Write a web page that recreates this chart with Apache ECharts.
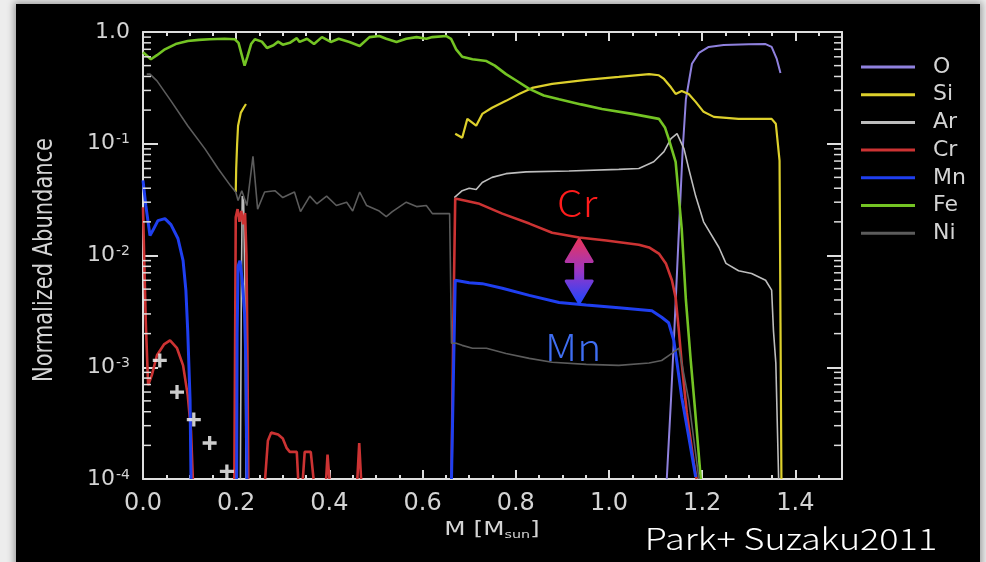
<!DOCTYPE html>
<html>
<head>
<meta charset="utf-8">
<script src="https://cdn.jsdelivr.net/npm/echarts@6/dist/echarts.min.js"></script>
<style>
  html, body { margin: 0; padding: 0; width: 986px; height: 562px; overflow: hidden; background: #ededed; }
  #panel { position: absolute; left: 16px; top: 4px; width: 964px; height: 562px; background: #000;
           box-shadow: 0 0 7px 2px rgba(0,0,0,0.35); }
  #chart { position: absolute; left: 0; top: 0; width: 986px; height: 562px; }
</style>
</head>
<body>
<div id="panel"></div>
<div id="chart"></div>
<script>
// Axis tick labels
const massLabels = ['0.0', '0.2', '0.4', '0.6', '0.8', '1.0', '1.2', '1.4'];
const decadeLabels = ['10{e|-4}', '10{e|-3}', '10{e|-2}', '10{e|-1}', '1.0'];
const logMinorTicks = [
  2e-4, 3e-4, 4e-4, 5e-4, 6e-4, 7e-4, 8e-4, 9e-4,
  2e-3, 3e-3, 4e-3, 5e-3, 6e-3, 7e-3, 8e-3, 9e-3,
  2e-2, 3e-2, 4e-2, 5e-2, 6e-2, 7e-2, 8e-2, 9e-2,
  0.2, 0.3, 0.4, 0.5, 0.6, 0.7, 0.8, 0.9
];
const elements = ['O', 'Si', 'Ar', 'Cr', 'Mn', 'Fe', 'Ni'];

// Abundance profiles: [mass coordinate (Msun), normalized abundance]
const oxygen = [[1.124,1.0e-4],[1.133,5.1e-4],[1.141,2.5e-3],[1.150,0.0167],[1.158,0.087],[1.165,0.25],
  [1.178,0.52],[1.193,0.65],[1.214,0.735],[1.246,0.765],[1.30,0.775],[1.336,0.78],[1.349,0.735],
  [1.360,0.574],[1.368,0.43]];

const siliconInner = [[0.199,0.037],[0.200,0.06],[0.202,0.10],[0.204,0.145],[0.210,0.19],[0.216,0.21],[0.221,0.227]];
const siliconOuter = [[0.670,0.123],[0.685,0.113],[0.696,0.167],[0.715,0.145],[0.728,0.185],[0.749,0.21],
  [0.779,0.242],[0.807,0.279],[0.835,0.316],[0.878,0.343],[0.951,0.373],[1.021,0.396],[1.086,0.42],
  [1.107,0.41],[1.118,0.38],[1.133,0.32],[1.143,0.279],[1.156,0.297],[1.171,0.279],[1.186,0.237],
  [1.203,0.193],[1.225,0.174],[1.278,0.167],[1.349,0.167],[1.358,0.151],[1.366,0.0705],[1.368,2.5e-3],
  [1.370,1.0e-4]];

const argonInner = [[0.209,1.0e-4],[0.211,5e-3],[0.213,0.034],[0.216,0.03],[0.219,4e-3],[0.221,1.0e-4]];
const argonOuter = [[0.668,0.033],[0.685,0.038],[0.700,0.040],[0.715,0.039],[0.728,0.045],[0.749,0.050],
  [0.779,0.054],[0.822,0.056],[0.914,0.057],[1.021,0.059],[1.064,0.060],[1.096,0.069],[1.118,0.085],
  [1.133,0.111],[1.146,0.123],[1.161,0.090],[1.171,0.060],[1.186,0.034],[1.203,0.020],[1.236,0.0118],
  [1.251,8.5e-3],[1.278,7.3e-3],[1.306,6.9e-3],[1.336,6.0e-3],[1.349,4.9e-3],[1.353,2.1e-3],
  [1.358,1.09e-3],[1.364,1.0e-4]];

const chromiumCore = [[0.0,0.027],[0.003,8e-3],[0.006,2.5e-3],[0.011,6.9e-4],[0.019,8.5e-4],[0.030,1.28e-3],
  [0.045,1.6e-3],[0.058,1.74e-3],[0.073,1.48e-3],[0.086,1.04e-3],[0.096,5.6e-4],[0.103,2.7e-4],[0.107,1.0e-4]];
const chromiumInner = [[0.196,1.0e-4],[0.198,3e-3],[0.199,0.022],[0.203,0.026],[0.207,0.020],[0.211,0.025],
  [0.215,0.019],[0.219,0.024],[0.222,0.010],[0.224,1.5e-3],[0.226,1.0e-4]];
const chromiumSpikes = [
  [[0.262,1.0e-4],[0.268,2.2e-4],[0.275,2.6e-4],[0.290,2.5e-4],[0.300,2.3e-4],[0.308,1.9e-4],[0.315,1.75e-4],[0.330,1.75e-4],[0.333,1.0e-4]],
  [[0.343,1.0e-4],[0.347,1.75e-4],[0.360,1.75e-4],[0.366,1.0e-4]],
  [[0.393,1.0e-4],[0.396,1.65e-4],[0.400,1.0e-4]],
  [[0.460,1.0e-4],[0.464,2.1e-4],[0.468,1.0e-4]]
];
const chromiumOuter = [[0.662,1.0e-4],[0.666,2.5e-3],[0.670,0.0323],[0.690,0.031],[0.722,0.029],[0.771,0.0237],
  [0.829,0.0193],[0.878,0.016],[0.936,0.0145],[0.994,0.0136],[1.064,0.0125],[1.086,0.0118],[1.107,0.0104],
  [1.122,8.5e-3],[1.135,6.0e-3],[1.143,4.2e-3],[1.150,2.1e-3],[1.156,1.09e-3],[1.167,3.9e-4],[1.182,1.39e-4],
  [1.188,1.0e-4]];

const manganeseCore = [[0.0,0.047],[0.006,0.028],[0.015,0.0151],[0.021,0.0167],[0.032,0.0205],[0.047,0.0214],
  [0.060,0.0189],[0.075,0.0142],[0.086,9.0e-3],[0.092,4.9e-3],[0.096,2.1e-3],[0.101,5.1e-4],[0.103,1.0e-4]];
const manganeseInner = [[0.201,1.0e-4],[0.202,2e-3],[0.204,8e-3],[0.208,9e-3],[0.213,6e-3],[0.218,3e-3],
  [0.221,1e-3],[0.223,1.0e-4]];
const manganeseOuter = [[0.662,1.0e-4],[0.666,7.7e-4],[0.670,6.0e-3],[0.700,5.7e-3],[0.728,5.6e-3],[0.771,5.1e-3],
  [0.829,4.4e-3],[0.893,3.8e-3],[0.951,3.6e-3],[1.021,3.4e-3],[1.092,3.2e-3],[1.113,2.8e-3],[1.128,2.5e-3],
  [1.139,1.74e-3],[1.146,1.09e-3],[1.156,5.4e-4],[1.171,2.4e-4],[1.186,1.04e-4]];

const iron = [[0.0,0.66],[0.004,0.64],[0.017,0.57],[0.030,0.62],[0.047,0.70],[0.070,0.78],[0.096,0.83],
  [0.120,0.85],[0.143,0.86],[0.175,0.87],[0.197,0.86],[0.205,0.80],[0.212,0.62],[0.218,0.50],[0.224,0.60],
  [0.232,0.78],[0.240,0.86],[0.255,0.82],[0.266,0.72],[0.280,0.76],[0.290,0.82],[0.300,0.77],[0.315,0.80],
  [0.330,0.88],[0.336,0.815],[0.352,0.87],[0.367,0.78],[0.384,0.90],[0.403,0.815],[0.420,0.87],[0.443,0.815],
  [0.465,0.75],[0.486,0.90],[0.507,0.92],[0.522,0.87],[0.544,0.815],[0.565,0.87],[0.587,0.90],[0.608,0.87],
  [0.621,0.90],[0.651,0.92],[0.661,0.87],[0.672,0.70],[0.685,0.60],[0.707,0.57],[0.737,0.55],[0.755,0.50],
  [0.779,0.42],[0.800,0.37],[0.829,0.31],[0.860,0.27],[0.893,0.25],[0.940,0.225],[0.985,0.205],[1.050,0.185],
  [1.107,0.167],[1.120,0.14],[1.128,0.111],[1.143,0.069],[1.156,0.0174],[1.165,4e-3],[1.175,1.2e-3],
  [1.185,4e-4],[1.197,1.0e-4]];

const nickel = [[0.008,0.42],[0.015,0.42],[0.030,0.365],[0.060,0.242],[0.096,0.145],[0.133,0.090],[0.161,0.060],
  [0.188,0.042],[0.199,0.037],[0.204,0.031],[0.212,0.038],[0.223,0.028],[0.236,0.077],[0.246,0.026],
  [0.261,0.037],[0.283,0.038],[0.300,0.033],[0.325,0.037],[0.338,0.0247],[0.358,0.034],[0.373,0.029],
  [0.394,0.034],[0.415,0.028],[0.437,0.030],[0.450,0.025],[0.465,0.037],[0.480,0.028],[0.507,0.025],
  [0.522,0.0223],[0.535,0.0247],[0.565,0.030],[0.587,0.0274],[0.608,0.028],[0.621,0.0237],[0.651,0.0237],
  [0.658,0.0237],[0.662,1.64e-3],[0.672,1.64e-3],[0.685,1.57e-3],[0.707,1.48e-3],[0.737,1.48e-3],
  [0.779,1.33e-3],[0.829,1.20e-3],[0.878,1.11e-3],[0.951,1.06e-3],[1.021,1.04e-3],[1.086,1.09e-3],
  [1.113,1.15e-3],[1.135,1.33e-3],[1.150,1.48e-3],[1.171,5.1e-4],[1.193,1.0e-4]];

// Measured points
const observed = [[0.036,1.15e-3],[0.073,6.0e-4],[0.109,3.4e-4],[0.143,2.1e-4],[0.180,1.17e-4]];

// Cr / Mn comparison marker
const arrowMass = 0.936;
const arrowCr = 0.0145;
const arrowMn = 3.6e-3;

const segmentsByElement = {
  O: [oxygen],
  Si: [siliconInner, siliconOuter],
  Ar: [argonInner, argonOuter],
  Cr: [chromiumCore, chromiumInner, ...chromiumSpikes, chromiumOuter],
  Mn: [manganeseCore, manganeseInner, manganeseOuter],
  Fe: [iron],
  Ni: [nickel]
};
const colors = { O: '#8f81de', Si: '#ddd02c', Ar: '#bdbdbd', Cr: '#cc3333', Mn: '#1f3ff0', Fe: '#74c424', Ni: '#5c5c5c' };
const widths = { O: 2, Si: 2.2, Ar: 1.6, Cr: 2.6, Mn: 3, Fe: 2.6, Ni: 1.6 };

const AXIS = '#dedede';
const LABEL = '#d4d4d4';
const FONT = 'DejaVu Sans';

const series = [];
elements.forEach(el => {
  segmentsByElement[el].forEach(seg => {
    series.push({
      name: el, type: 'line', data: seg, showSymbol: false, symbol: 'none',
      color: colors[el], lineStyle: { color: colors[el], width: widths[el] },
      silent: true, z: 3
    });
  });
});
series.push({
  type: 'scatter', data: observed, silent: true, z: 4,
  symbol: 'path://M-1.4,-6L1.4,-6L1.4,-1.4L6,-1.4L6,1.4L1.4,1.4L1.4,6L-1.4,6L-1.4,1.4L-6,1.4L-6,-1.4L-1.4,-1.4Z',
  symbolSize: 14, itemStyle: { color: '#ffffff' }
});
series.push({
  type: 'custom', silent: true, z: 5, clip: false,
  data: logMinorTicks.map(v => [0, v]),
  renderItem: (params, api) => {
    const y = api.coord([0, api.value(1)])[1];
    const cs = params.coordSys;
    const st = { stroke: AXIS, lineWidth: 1.5 };
    return { type: 'group', children: [
      { type: 'line', shape: { x1: cs.x, y1: y, x2: cs.x + 8, y2: y }, style: st },
      { type: 'line', shape: { x1: cs.x + cs.width - 8, y1: y, x2: cs.x + cs.width, y2: y }, style: st }
    ] };
  }
});

const xCommon = {
  type: 'value', min: 0, max: 1.5, interval: 0.2,
  axisLine: { show: true, onZero: false, lineStyle: { color: AXIS, width: 2 } },
  axisTick: { show: true, inside: true, length: 9, lineStyle: { color: AXIS, width: 2 } },
  minorTick: { show: true, splitNumber: 4, length: 4, lineStyle: { color: AXIS, width: 2 } },
  splitLine: { show: false }, minorSplitLine: { show: false }
};
const yCommon = {
  type: 'log', logBase: 10, min: 1e-4, max: 1,
  axisLine: { show: true, onZero: false, lineStyle: { color: AXIS, width: 2 } },
  axisTick: { show: true, inside: true, length: 15, lineStyle: { color: AXIS, width: 2 } },
  splitLine: { show: false }
};

const chart = echarts.init(document.getElementById('chart'), null, { renderer: 'canvas' });
chart.setOption({
  backgroundColor: 'transparent',
  animation: false,
  grid: { left: 143, right: 144, top: 32, bottom: 83, containLabel: false },
  legend: {
    data: elements, orient: 'vertical', left: 856, top: 51,
    icon: 'rect', itemWidth: 54, itemHeight: 3, itemGap: 5.7,
    textStyle: { color: LABEL, fontSize: 22, lineHeight: 22, fontFamily: FONT, padding: [0, 0, 0, 13] },
    selectedMode: false
  },
  xAxis: [
    Object.assign({}, xCommon, {
      position: 'bottom',
      axisLabel: { show: true, margin: 13, color: LABEL, fontSize: 24, fontFamily: FONT,
        formatter: v => massLabels[Math.round(v / 0.2)] || '' }
    }),
    Object.assign({}, xCommon, { position: 'top', axisLabel: { show: false } })
  ],
  yAxis: [
    Object.assign({}, yCommon, {
      position: 'left',
      axisLabel: { show: true, margin: 13, color: LABEL, fontSize: 22, fontFamily: FONT,
        formatter: v => decadeLabels[Math.round(Math.log10(v)) + 4] || '',
        rich: {
          e: { fontSize: 14, fontFamily: FONT, color: LABEL, verticalAlign: 'top', lineHeight: 14, padding: [0, 0, 10, 1] }
        }
      }
    }),
    Object.assign({}, yCommon, { position: 'right', axisLabel: { show: false } })
  ],
  series: series
});

// Annotations placed from data coordinates
const [ax, yTop] = chart.convertToPixel({ xAxisIndex: 0, yAxisIndex: 0 }, [arrowMass, arrowCr]);
const yBot = chart.convertToPixel({ xAxisIndex: 0, yAxisIndex: 0 }, [arrowMass, arrowMn])[1];
const headH = 24, headW = 13, shaftW = 3.5;
const arrowPts = [
  [ax, yTop + 2], [ax + headW, yTop + headH], [ax + shaftW, yTop + headH],
  [ax + shaftW, yBot - headH], [ax + headW, yBot - headH], [ax, yBot - 2],
  [ax - headW, yBot - headH], [ax - shaftW, yBot - headH], [ax - shaftW, yTop + headH],
  [ax - headW, yTop + headH]
];
const grad = new echarts.graphic.LinearGradient(0, 0, 0, 1, [
  { offset: 0, color: '#ea3458' }, { offset: 0.5, color: '#9a36c6' }, { offset: 1, color: '#1846ff' }
]);

chart.setOption({
  graphic: [
    {
      type: 'text', x: 45, y: 260, rotation: Math.PI / 2, scaleY: 1.25, silent: true,
      style: { text: 'Normalized Abundance', fontSize: 21, fontFamily: FONT, fill: LABEL,
        align: 'center', verticalAlign: 'middle' }
    },
    {
      type: 'text', x: 492, y: 530, scaleX: 1.3, silent: true,
      style: { text: 'M [M{s|sun}]', fontSize: 19, fontFamily: FONT, fill: LABEL,
        align: 'center', verticalAlign: 'middle', lineHeight: 22,
        rich: { s: { fontSize: 11, fontFamily: FONT, fill: LABEL, verticalAlign: 'bottom', lineHeight: 11, padding: [12, 0, 0, 0] } } }
    },
    {
      type: 'polygon', silent: true, z: 10,
      shape: { points: arrowPts },
      style: { fill: grad, stroke: grad, lineWidth: 3, lineJoin: 'round' }
    },
    {
      type: 'text', x: ax - 2, y: yTop - 35, scaleX: 1.1, silent: true, z: 10,
      style: { text: 'Cr', fontSize: 37, fontFamily: 'Noto Sans CJK JP', fontWeight: 300, fill: '#ff1c1c',
        align: 'center', verticalAlign: 'middle' }
    },
    {
      type: 'text', x: ax - 6, y: yBot + 42, scaleX: 1.1, silent: true, z: 10,
      style: { text: 'Mn', fontSize: 37, fontFamily: 'Noto Sans CJK JP', fontWeight: 300, fill: '#3f6ef2',
        align: 'center', verticalAlign: 'middle' }
    },
    {
      type: 'text', x: 791, y: 539, scaleX: 1.2, silent: true, z: 10,
      style: { text: 'Park+ Suzaku2011', fontSize: 30, fontFamily: 'Noto Sans CJK JP', fontWeight: 300, fill: '#ffffff',
        align: 'center', verticalAlign: 'middle' }
    }
  ]
});
</script>
</body>
</html>
